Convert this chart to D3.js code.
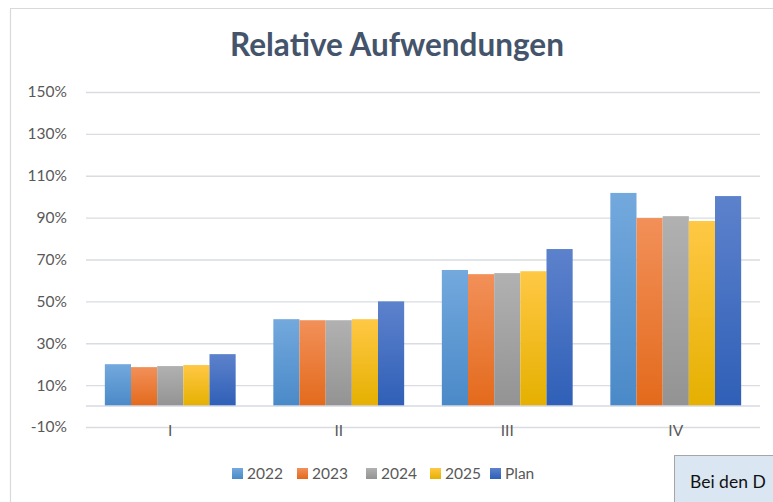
<!DOCTYPE html>
<html>
<head>
<meta charset="utf-8">
<script src="https://cdn.jsdelivr.net/npm/d3@7"></script>
<style>
  body { margin: 0; background: #fff; }
  svg { display: block; font-family: Lato, "Open Sans", sans-serif; }
</style>
</head>
<body>
<svg id="chart" width="773" height="502"></svg>
<script>
// chart data
const categories = ["I", "II", "III", "IV"];
const seriesNames = ["2022", "2023", "2024", "2025", "Plan"];
const values2022 = [20.0, 41.5, 65.0, 101.8];
const values2023 = [18.6, 41.0, 63.0, 89.8];
const values2024 = [19.1, 41.0, 63.5, 90.7];
const values2025 = [19.6, 41.5, 64.4, 88.4];
const valuesPlan = [24.8, 50.0, 75.0, 100.3];
const yTicks = [-10, 10, 30, 50, 70, 90, 110, 130, 150];

// gradient stops per series (top, bottom)
const colours = [
  ["#73a9dd", "#4a89c8"],
  ["#f29059", "#e36a1c"],
  ["#b1b1b1", "#939393"],
  ["#ffc845", "#e5b000"],
  ["#5d82cc", "#2f5fb7"]
];

const allValues = [values2022, values2023, values2024, values2025, valuesPlan];

const svg = d3.select("#chart");
const W = 773, H = 502;
const plot = {left: 86, right: 760, top: 92, bottom: 427};

// gradients
const defs = svg.append("defs");
colours.forEach(function(c, i){
  let g = defs.append("linearGradient")
    .attr("id", "grad" + i)
    .attr("x1", 0).attr("y1", 0).attr("x2", 0).attr("y2", 1);
  g.append("stop").attr("offset", "0%").attr("stop-color", c[0]);
  g.append("stop").attr("offset", "100%").attr("stop-color", c[1]);
}) // forEach

// chart frame
svg.append("path")
  .attr("d", "M10.5," + H + " V8.5 H" + W)
  .attr("fill", "none")
  .attr("stroke", "#d9d9d9")
  .attr("stroke-width", 1.2);

// title
svg.append("text")
  .attr("x", 397).attr("y", 56)
  .attr("text-anchor", "middle")
  .attr("font-size", 31.5)
  .attr("font-weight", "bold")
  .attr("fill", "#44546a")
  .text("Relative Aufwendungen");

// scales
const y = d3.scaleLinear().domain([-10, 150]).range([plot.bottom, plot.top]);
const x0 = d3.scaleBand().domain(categories).range([plot.left, plot.right]).paddingInner(0).paddingOuter(0);
const x1 = d3.scaleBand().domain(seriesNames)
  .range([0, x0.bandwidth()])
  .paddingInner(0)
  .paddingOuter(0.72);

// y axis with gridlines
const yAxis = d3.axisLeft(y)
  .tickValues(yTicks)
  .tickSize(-(plot.right - plot.left))
  .tickPadding(19)
  .tickFormat(d => d + "%");

let ga = svg.append("g")
  .attr("transform", "translate(" + plot.left + ",0)")
  .call(yAxis);
ga.select(".domain").remove();
ga.selectAll("line").attr("stroke", "#d9dce1").attr("stroke-width", 1.3);
ga.selectAll("text")
  .attr("font-size", 15.5)
  .attr("fill", "#595959")
  .attr("font-family", "Lato, sans-serif");

// bars
const groups = svg.append("g").selectAll("g")
  .data(categories)
  .join("g")
  .attr("transform", d => "translate(" + x0(d) + ",0)");

groups.selectAll("rect")
  .data((d, ci) => seriesNames.map((s, si) => ({s: s, si: si, v: allValues[si][ci]})))
  .join("rect")
  .attr("x", d => x1(d.s))
  .attr("width", x1.bandwidth())
  .attr("y", d => y(d.v))
  .attr("height", d => y(0) - y(d.v))
  .attr("fill", d => "url(#grad" + d.si + ")");

// zero line
svg.append("line")
  .attr("x1", plot.left).attr("x2", plot.right)
  .attr("y1", y(0)).attr("y2", y(0))
  .attr("stroke", "#d6dae2")
  .attr("stroke-width", 1.5);

// category labels
const xAxis = d3.axisBottom(x0).tickSize(0).tickPadding(0);
let gx = svg.append("g")
  .attr("transform", "translate(0," + (y(0) + 19) + ")")
  .call(xAxis);
gx.select(".domain").remove();
gx.selectAll("text")
  .attr("font-size", 15.5)
  .attr("fill", "#595959")
  .attr("font-family", "Lato, sans-serif");

// legend
const legendX = [232, 297, 366, 430, 490];
const legend = svg.append("g").selectAll("g")
  .data(seriesNames)
  .join("g")
  .attr("transform", (d, i) => "translate(" + legendX[i] + ",473)");
legend.append("rect")
  .attr("x", 0).attr("y", -5)
  .attr("width", 11).attr("height", 11)
  .attr("fill", (d, i) => "url(#grad" + i + ")");
legend.append("text")
  .attr("x", 15).attr("y", 6)
  .attr("font-size", 15.5)
  .attr("fill", "#595959")
  .text(d => d);

// text box overlapping the corner
svg.append("rect")
  .attr("x", 674.5).attr("y", 455.5)
  .attr("width", 110).attr("height", 60)
  .attr("fill", "#dae6f2")
  .attr("stroke", "#a6a6a6")
  .attr("stroke-width", 1);
svg.append("text")
  .attr("x", 690).attr("y", 488)
  .attr("font-size", 17.5)
  .attr("fill", "#111")
  .text("Bei den D");
</script>
</body>
</html>
